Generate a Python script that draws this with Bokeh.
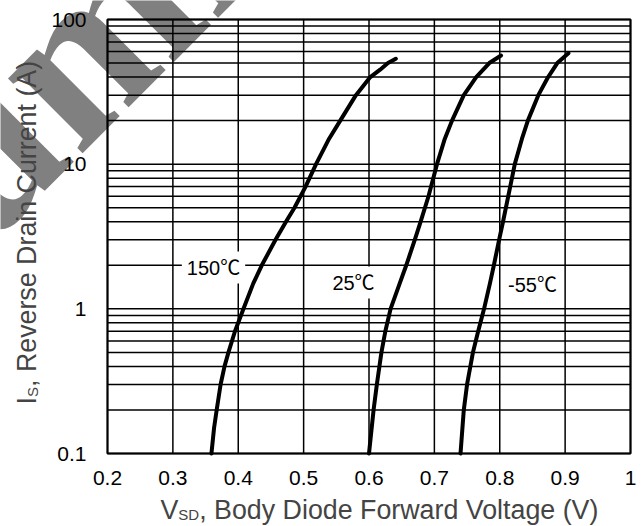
from bokeh.plotting import figure
from bokeh.models import FixedTicker, Label, Range1d, LinearAxis, LogAxis
from bokeh.embed import file_html
from bokeh.resources import INLINE

# ---------------- data ----------------
temps = ["150℃", "25℃", "-55℃"]

i_150 = [0.1, 0.15, 0.2, 0.3, 0.4, 0.5, 0.7, 1, 1.5, 2, 3, 4, 5, 7, 10, 15, 20, 30,
         40, 45, 50, 53.5]
v_150 = [0.359, 0.363, 0.367, 0.373, 0.379, 0.385, 0.395, 0.408, 0.423, 0.436, 0.457,
         0.473, 0.486, 0.503, 0.519, 0.539, 0.556, 0.580, 0.602, 0.617, 0.629, 0.641]

i_25 = [0.1, 0.2, 0.3, 0.5, 0.7, 1, 1.5, 2, 3, 4, 6, 10, 15, 20, 30, 40, 50, 56.4]
v_25 = [0.600, 0.607, 0.612, 0.619, 0.625, 0.633, 0.647, 0.657, 0.670, 0.679, 0.691,
        0.704, 0.716, 0.727, 0.745, 0.764, 0.784, 0.802]

i_m55 = [0.1, 0.2, 0.3, 0.5, 0.7, 1, 1.5, 2, 3, 4, 6, 10, 15, 20, 30, 40, 50, 58.5]
v_m55 = [0.740, 0.745, 0.750, 0.759, 0.767, 0.776, 0.785, 0.791, 0.799, 0.805, 0.813,
         0.823, 0.834, 0.843, 0.859, 0.874, 0.888, 0.905]

x_ticks = [0.2, 0.3, 0.4, 0.5, 0.6, 0.7, 0.8, 0.9, 1.0]
x_tick_labels = ["0.2", "0.3", "0.4", "0.5", "0.6", "0.7", "0.8", "0.9", "1"]
y_ticks = [0.1, 1, 10, 100]
y_tick_labels = ["0.1", "1", "10", "100"]
y_minor = [m * 10.0 ** e for e in (-1, 0, 1) for m in range(2, 10)]

x_title_main = "V"
x_title_sub = "SD"
x_title_rest = ", Body Diode Forward Voltage (V)"
y_title_main = "I"
y_title_sub = "S"
y_title_rest = ", Reverse Drain Current (A)"
watermark = "Summit"

# ---------------- layout helpers (page pixel -> data) ----------------
FL, FR, FT, FB = 107.0, 630.0, 19.0, 453.0
W, H = 643, 526
X0, X1 = x_ticks[0], x_ticks[-1]
Y0, Y1 = y_ticks[0], y_ticks[-1]


def dx(px):
    return X0 + (px - FL) / (FR - FL) * (X1 - X0)


def dy(py):
    return 10 ** (-1 + (FB - py) / (FB - FT) * 3)


p = figure(width=W, height=H, x_range=Range1d(dx(0), dx(W)), y_range=Range1d(dy(H), dy(0)),
           y_axis_type="log", x_axis_location=None, y_axis_location=None,
           output_backend="svg", toolbar_location=None, min_border=0)
p.background_fill_color = "white"
p.border_fill_color = "white"
p.outline_line_color = None
p.grid.visible = False

# watermark (drawn first, under everything)
wm = Label(x=dx(-158), y=dy(283), text=watermark, angle=45, angle_units="deg",
           text_font="Liberation Serif", text_font_style="bold", text_font_size="230px",
           text_color="#808080", text_align="left", text_baseline="alphabetic",
           level="image")
p.add_layout(wm)

# grid lines from the tick lists
grid_y = y_ticks + y_minor
p.segment(x0=x_ticks, y0=[Y0] * len(x_ticks), x1=x_ticks, y1=[Y1] * len(x_ticks),
          line_color="black", line_width=1.5)
p.segment(x0=[X0] * len(grid_y), y0=grid_y, x1=[X1] * len(grid_y), y1=grid_y,
          line_color="black", line_width=1.5)
p.quad(left=[X0], right=[X1], bottom=[Y0], top=[Y1], fill_color=None,
       line_color="black", line_width=2)

# axes fixed at the plot-area edges
xt = FixedTicker(ticks=x_ticks)
yt = FixedTicker(ticks=y_ticks, minor_ticks=y_minor)
xaxis = LinearAxis(ticker=xt, fixed_location=Y0, bounds=(X0, X1),
                   major_label_overrides=dict(zip(x_ticks, x_tick_labels)))
yaxis = LogAxis(ticker=yt, fixed_location=X0, bounds=(Y0, Y1),
                major_label_overrides=dict(zip(y_ticks, y_tick_labels)))
for ax in (xaxis, yaxis):
    ax.axis_line_color = None
    ax.major_tick_in = 0
    ax.major_tick_out = 0
    ax.minor_tick_in = 0
    ax.minor_tick_out = 0
    ax.major_label_text_font = "Liberation Sans"
    ax.major_label_text_font_size = "21px"
    ax.major_label_text_color = "black"
xaxis.major_label_standoff = 17
yaxis.major_label_standoff = 21
p.add_layout(xaxis, "below")
p.add_layout(yaxis, "left")

# curves
for v, i in ((v_150, i_150), (v_25, i_25), (v_m55, i_m55)):
    p.line(v, i, line_width=4, line_color="black", line_join="round", line_cap="round")

# temperature labels with white boxes
lab_font = "Liberation Sans, Noto Sans CJK JP"
for t, (px, py) in zip(temps, ((213, 267), (353, 282), (532, 284))):
    p.add_layout(Label(x=dx(px), y=dy(py), text=t, text_align="center", text_baseline="middle",
                       text_font=lab_font, text_font_size="20px", text_color="black",
                       background_fill_color="white", padding=5))

# axis titles built from pieces (main + subscript + rest)
tf = "Liberation Sans"
big = "26.8px"
small = "15px"
p.add_layout(Label(x=dx(160), y=dy(509), text=x_title_main, text_font=tf, text_font_size=big,
                   text_baseline="alphabetic", text_align="left"))
p.add_layout(Label(x=dx(177.8), y=dy(514), text=x_title_sub, text_font=tf, text_font_size=small,
                   text_baseline="alphabetic", text_align="left"))
p.add_layout(Label(x=dx(198.7), y=dy(509), text=x_title_rest, text_font=tf, text_font_size=big,
                   text_baseline="alphabetic", text_align="left"))

p.add_layout(Label(x=dx(26), y=dy(404), text=y_title_main, text_font=tf, text_font_size=big,
                   angle=90, angle_units="deg", text_baseline="alphabetic", text_align="left"))
p.add_layout(Label(x=dx(32), y=dy(396.5), text=y_title_sub, text_font=tf, text_font_size=small,
                   angle=90, angle_units="deg", text_baseline="alphabetic", text_align="left"))
p.add_layout(Label(x=dx(26), y=dy(386.5), text=y_title_rest, text_font=tf, text_font_size=big,
                   angle=90, angle_units="deg", text_baseline="alphabetic", text_align="left"))

open("out.html", "w").write(file_html(p, INLINE))
